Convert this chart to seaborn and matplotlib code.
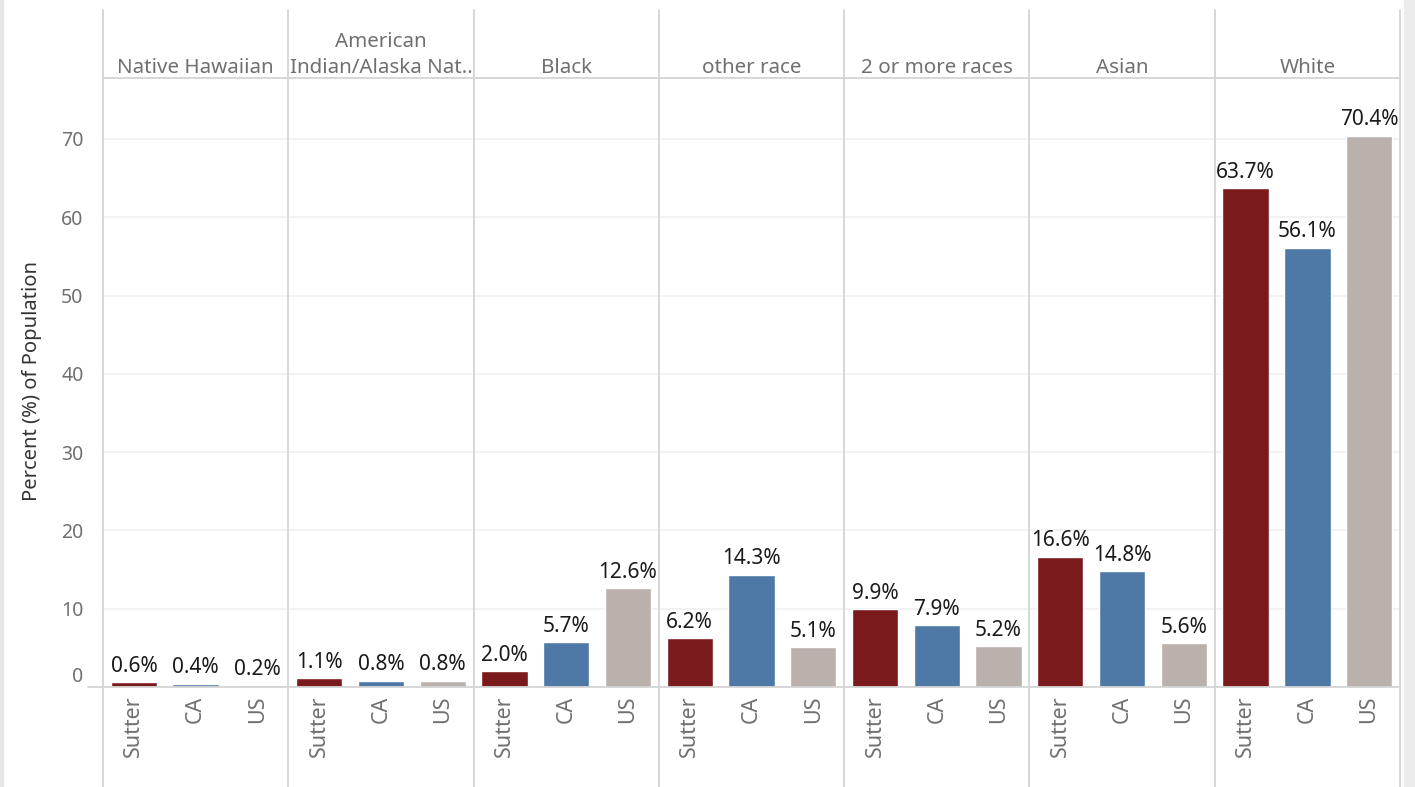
import matplotlib
matplotlib.use("Agg")
import matplotlib.pyplot as plt
import seaborn as sns
import pandas as pd
from matplotlib.lines import Line2D
from matplotlib.patches import Rectangle

# data
races = ["Native Hawaiian", "American\nIndian/Alaska Nat..", "Black", "other race",
         "2 or more races", "Asian", "White"]
places = ["Sutter", "CA", "US"]
sutter = [0.6, 1.1, 2.0, 6.2, 9.9, 16.6, 63.7]
ca = [0.4, 0.8, 5.7, 14.3, 7.9, 14.8, 56.1]
us = [0.2, 0.8, 12.6, 5.1, 5.2, 5.6, 70.4]
y_ticks = [0, 10, 20, 30, 40, 50, 60, 70]

colors = {"Sutter": "#7a1a1d", "CA": "#4e79a7", "US": "#bab0ac"}

rows = []
for i, r in enumerate(races):
  for p, vals in zip(places, [sutter, ca, us]):
    rows.append({"race": r, "place": p, "pct": vals[i]})
df = pd.DataFrame(rows)

sns.set_style("white")
plt.rcParams["font.family"] = ["Noto Sans", "DejaVu Sans"]

W, H = 1415, 787
fig = plt.figure(figsize=(W / 100, H / 100), dpi=100)

# pixel helpers
def fx(px): return px / W
def fy(py): return 1 - py / H

left_px, right_px, top_px, zero_px = 103, 1400, 78, 687
panel_w = (right_px - left_px) / len(races)
ymax = (zero_px - top_px) / ((zero_px - 139) / 70)

grid_c = "#d4d4d4"
txt_gray = "#707070"
axes = []
for i, race in enumerate(races):
  x0 = left_px + i * panel_w
  ax = fig.add_axes([fx(x0), fy(zero_px), panel_w / W, (zero_px - top_px) / H])
  sub = df[df["race"] == race]
  sns.barplot(data=sub, x="place", y="pct", hue="place", order=places,
              palette=colors, width=0.75, legend=False, ax=ax, saturation=1)
  for c in ax.containers:
    ax.bar_label(c, fmt="%.1f%%", padding=4, fontsize=15, color="#1a1a1a")
  ax.set_ylim(0, ymax)
  ax.set_xlim(-0.5, 2.5)
  ax.set_yticks(y_ticks)
  ax.yaxis.grid(True, color="#f0f0f0", linewidth=1.2)
  ax.set_axisbelow(True)
  for s in ax.spines.values():
    s.set_visible(False)
  ax.set_xlabel("")
  ax.set_ylabel("")
  ax.tick_params(axis="x", length=0, pad=6, labelsize=15.5, labelcolor=txt_gray, labelrotation=90)
  ax.set_xticks([0, 1, 2])
  ax.set_xticks([0.5, 1.5], minor=True)
  ax.tick_params(axis="x", which="minor", length=7, color="#ececec", direction="out")
  if i == 0:
    ax.tick_params(axis="y", length=8, color=grid_c, labelsize=14, labelcolor=txt_gray, pad=6)
  else:
    ax.tick_params(axis="y", length=0, labelleft=False)
  # header text
  fig.text(fx(x0 + panel_w / 2), fy(73), race, ha="center", va="baseline",
           fontsize=14.8, color=txt_gray, linespacing=1.4)
  axes.append(ax)

# nudge the 0 label up, like the reference
for lab in axes[0].get_yticklabels():
  if lab.get_text() == "0":
    lab.set_va("bottom")

axes[0].set_ylabel("Percent (%) of Population", fontsize=14.5, color="#333333")
axes[0].yaxis.set_label_coords(-(103 - 42) / panel_w, (zero_px - 381) / (zero_px - top_px))

# frame lines
for i in range(len(races) + 1):
  x = fx(left_px + i * panel_w)
  fig.add_artist(Line2D([x, x], [fy(10), fy(787)], color=grid_c, linewidth=1.3))
fig.add_artist(Line2D([fx(left_px), fx(right_px)], [fy(top_px), fy(top_px)], color=grid_c, linewidth=1.3))
fig.add_artist(Line2D([fx(88), fx(right_px)], [fy(zero_px), fy(zero_px)], color=grid_c, linewidth=1.3))

# side strips
fig.add_artist(Rectangle((0, 0), fx(3), 1, color="#e6e6e6", transform=fig.transFigure))
fig.add_artist(Rectangle((fx(1404), 0), 1 - fx(1404), 1, color="#ececec", transform=fig.transFigure))

fig.savefig("out.png", dpi=100)
